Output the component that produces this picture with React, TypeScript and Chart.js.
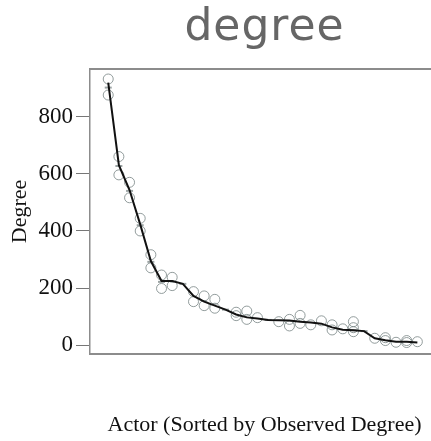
import React, { useEffect, useRef } from 'react';
import { Chart, registerables } from 'chart.js';

Chart.register(...registerables);

const CHART_TITLE = 'degree';
const X_TITLE = 'Actor (Sorted by Observed Degree)';
const Y_TITLE = 'Degree';

const ACTORS = [1, 2, 3, 4, 5, 6, 7, 8, 9, 10, 11, 12, 13, 14, 15, 16, 17, 18, 19, 20, 21, 22, 23, 24, 25, 26, 27, 28, 29, 30];
const MEAN_DEGREE = [918, 630, 543, 423, 295, 225, 225, 215, 173, 153, 139, 125, 108, 98, 94, 89, 88, 87, 83, 80, 76, 63, 55, 53, 50, 25, 18, 13, 13, 10];
const OBS_UPPER = [931, 660, 570, 444, 317, 246, 238, null, 188, 173, 161, null, 116, 120, 97, null, 83, 91, 105, 72, 86, 72, 58, 83, null, 25, 27, 11, 17, 13];
const OBS_LOWER = [875, 596, 516, 400, 271, 199, 209, null, 153, 139, 130, null, 104, 91, null, null, null, 68, 77, null, null, 54, null, 62, null, null, 17, null, 10, null];
const OBS_EXTRA = [null, null, null, null, null, null, null, null, null, null, null, null, null, null, null, null, null, null, null, null, null, null, null, 48, null, null, null, null, null, null];
const DASH_MARKS = [901, 627, 540, 420, 292, 222, null, 215, null, null, null, 125, null, null, null, 89, null, null, null, null, null, null, null, 53, 50, null, null, null, null, null];
const Y_TICKS = [0, 200, 400, 600, 800];

const toPoints = (vals: (number | null)[]) =>
  ACTORS.map((a, i) => ({ x: a, y: vals[i] })).filter((p) => p.y !== null) as { x: number; y: number }[];

const CIRCLE_COLOR = 'rgba(120,132,132,0.8)';
const AXIS_COLOR = '#8c8c8c';

const titlePlugin = {
  id: 'bigTitle',
  afterDraw(chart: any) {
    const { ctx, chartArea } = chart;
    ctx.save();
    ctx.font = '44px "DejaVu Sans"';
    ctx.fillStyle = '#666666';
    ctx.textAlign = 'center';
    ctx.textBaseline = 'alphabetic';
    try {
      (ctx as any).letterSpacing = '1px';
    } catch (e) {}
    ctx.fillText(CHART_TITLE, (chartArea.left + chartArea.right) / 2, 40);
    ctx.restore();
  },
};

export default function App() {
  const ref = useRef<HTMLCanvasElement>(null);

  useEffect(() => {
    if (!ref.current) return;
    const serif = 'Liberation Serif';
    const chart = new Chart(ref.current, {
      type: 'scatter',
      data: {
        datasets: [
          {
            type: 'line',
            data: toPoints(MEAN_DEGREE),
            borderColor: '#111111',
            borderWidth: 2,
            pointRadius: 0,
            tension: 0,
            fill: false,
          } as any,
          {
            data: toPoints(OBS_UPPER),
            pointStyle: 'circle',
            pointRadius: 5,
            borderColor: CIRCLE_COLOR,
            backgroundColor: 'rgba(0,0,0,0)',
            borderWidth: 1,
          },
          {
            data: toPoints(OBS_LOWER),
            pointStyle: 'circle',
            pointRadius: 5,
            borderColor: CIRCLE_COLOR,
            backgroundColor: 'rgba(0,0,0,0)',
            borderWidth: 1,
          },
          {
            data: toPoints(OBS_EXTRA),
            pointStyle: 'circle',
            pointRadius: 5,
            borderColor: CIRCLE_COLOR,
            backgroundColor: 'rgba(0,0,0,0)',
            borderWidth: 1,
          },
          {
            data: toPoints(DASH_MARKS),
            pointStyle: 'line',
            pointRadius: 3.5,
            borderColor: 'rgba(130,140,140,0.8)',
            borderWidth: 2,
          },
        ],
      },
      options: {
        responsive: false,
        animation: false,
        layout: { padding: { top: 69, right: 5, bottom: 0, left: 0 } },
        plugins: {
          legend: { display: false },
          tooltip: { enabled: false },
          title: { display: false },
        },
        scales: {
          x: {
            type: 'linear',
            position: 'bottom',
            min: -0.71,
            max: 32.03,
            ticks: { display: false },
            grid: { display: false, drawTicks: false },
            border: { display: true, color: AXIS_COLOR, width: 2 },
            title: {
              display: true,
              text: X_TITLE,
              color: '#111111',
              font: { family: serif, size: 22 },
              padding: { top: 0, bottom: 3 },
            },
            afterFit: (scale: any) => {
              scale.height = 87;
            },
          },
          xTop: {
            type: 'linear',
            position: 'top',
            min: -0.71,
            max: 32.03,
            ticks: { display: false },
            grid: { display: false, drawTicks: false },
            border: { display: true, color: AXIS_COLOR, width: 2 },
            afterFit: (scale: any) => {
              scale.height = 0;
            },
          },
          y: {
            type: 'linear',
            min: -30,
            max: 966,
            afterBuildTicks: (scale: any) => {
              scale.ticks = Y_TICKS.map((v) => ({ value: v }));
            },
            ticks: {
              color: '#111111',
              font: { family: serif, size: 23 },
              padding: 3,
            },
            grid: {
              display: true,
              drawOnChartArea: false,
              drawTicks: true,
              tickLength: 14,
              color: '#777777',
              lineWidth: 1,
            },
            border: { display: true, color: AXIS_COLOR, width: 1.5 },
            title: {
              display: true,
              text: Y_TITLE,
              color: '#111111',
              font: { family: serif, size: 22 },
              padding: { top: 7, bottom: 0 },
            },
            afterFit: (scale: any) => {
              scale.width = 90;
            },
          },
        },
      } as any,
      plugins: [titlePlugin],
    });
    return () => chart.destroy();
  }, []);

  return (
    <div style={{ position: 'absolute', left: 0, top: 0, width: 431, height: 441, overflow: 'hidden', background: '#fff' }}>
      <canvas ref={ref} width={445} height={441} style={{ width: 445, height: 441, display: 'block' }} />
    </div>
  );
}
